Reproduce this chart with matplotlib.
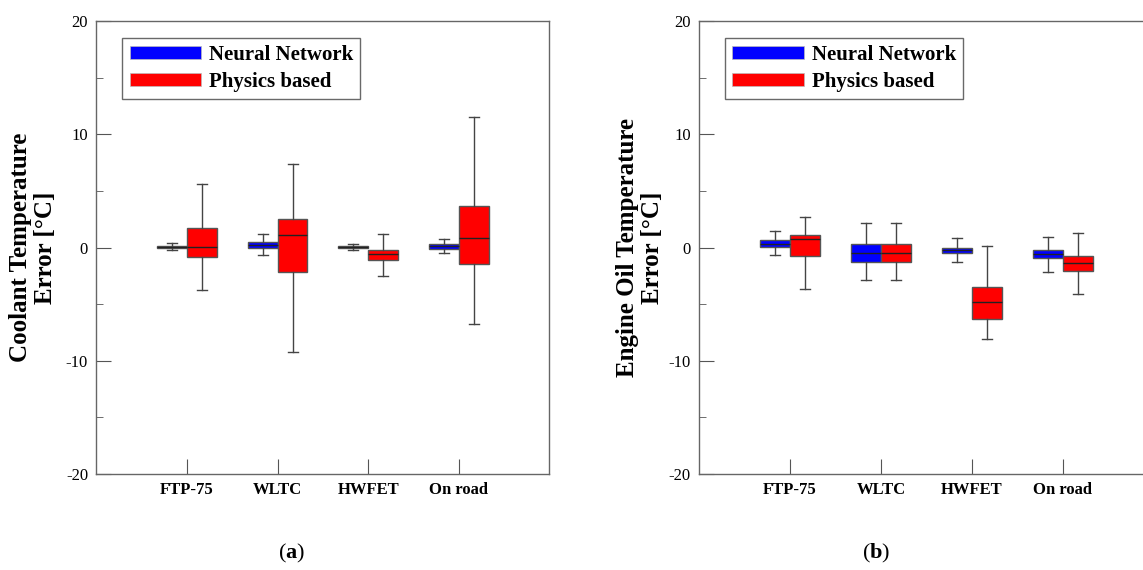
import matplotlib
matplotlib.use("Agg")
import matplotlib.pyplot as plt
from matplotlib.patches import Patch
from matplotlib.ticker import MultipleLocator

plt.rcParams["font.family"] = ["Liberation Serif", "DejaVu Serif"]
plt.rcParams["mathtext.fontset"] = "custom"
plt.rcParams["mathtext.rm"] = "Liberation Serif"
plt.rcParams["mathtext.bf"] = "Liberation Serif:bold"
plt.rcParams["axes.unicode_minus"] = False

categories = ["FTP-75", "WLTC", "HWFET", "On road"]
series_names = ["Neural Network", "Physics based"]

# coolant temperature error [°C]
coolant_nn_med = [0.05, 0.26, 0.05, 0.12]
coolant_nn_q1 = [0.0, 0.0, 0.0, -0.09]
coolant_nn_q3 = [0.1, 0.5, 0.1, 0.29]
coolant_nn_lo = [-0.2, -0.68, -0.2, -0.5]
coolant_nn_hi = [0.42, 1.2, 0.35, 0.76]

coolant_ph_med = [0.06, 1.12, -0.56, 0.82]
coolant_ph_q1 = [-0.82, -2.18, -1.12, -1.5]
coolant_ph_q3 = [1.74, 2.56, -0.18, 3.68]
coolant_ph_lo = [-3.76, -9.26, -2.5, -6.74]
coolant_ph_hi = [5.59, 7.38, 1.18, 11.53]

# engine oil temperature error [°C]
oil_nn_med = [0.35, -0.47, -0.2, -0.56]
oil_nn_q1 = [0.06, -1.32, -0.47, -0.94]
oil_nn_q3 = [0.65, 0.32, 0.0, -0.18]
oil_nn_lo = [-0.7, -2.91, -1.32, -2.15]
oil_nn_hi = [1.5, 2.18, 0.82, 0.97]

oil_ph_med = [0.79, -0.47, -4.82, -1.41]
oil_ph_q1 = [-0.76, -1.32, -6.32, -2.09]
oil_ph_q3 = [1.12, 0.32, -3.53, -0.76]
oil_ph_lo = [-3.7, -2.91, -8.12, -4.09]
oil_ph_hi = [2.7, 2.18, 0.15, 1.24]

colors = ["#0000ff", "#ff0000"]
W, H = 1143, 570


def make_stats(med, q1, q3, lo, hi):
    return [dict(med=m, q1=a, q3=b, whislo=l, whishi=h, fliers=[])
            for m, a, b, l, h in zip(med, q1, q3, lo, hi)]


def draw_panel(ax, nn, ph, ylabel, xmax, label_x):
    width = 0.33
    pos = list(range(1, len(categories) + 1))
    for k, (stats, color) in enumerate(zip([nn, ph], colors)):
        offset = (k - 0.5) * width
        ax.bxp(stats, positions=[p + offset for p in pos], widths=width,
               capwidths=0.11, patch_artist=True, showfliers=False,
               boxprops=dict(facecolor=color, edgecolor="#555555", linewidth=1.0),
               medianprops=dict(color="#222222", linewidth=1.0),
               whiskerprops=dict(color="#444444", linewidth=1.0),
               capprops=dict(color="#444444", linewidth=1.0),
               manage_ticks=False)

    ax.set_xlim(0, xmax)
    ax.set_ylim(-20, 20)
    ax.set_xticks(pos)
    ax.set_xticklabels(categories, fontsize=12, fontweight="bold")
    ax.yaxis.set_major_locator(MultipleLocator(10))
    ax.yaxis.set_minor_locator(MultipleLocator(5))
    ax.tick_params(axis="y", which="major", direction="in", length=11,
                   labelsize=12, pad=6, color="#555555", right=False)
    ax.tick_params(axis="y", which="minor", direction="in", length=5,
                   color="#555555", right=False)
    ax.tick_params(axis="x", direction="in", length=11, pad=6,
                   color="#555555", top=False)
    for sp in ax.spines.values():
        sp.set_color("#666666")
        sp.set_linewidth(1.0)

    ax.set_ylabel(ylabel, fontsize=18, fontweight="bold", linespacing=1.1)
    ax.yaxis.set_label_coords(label_x, 0.5)

    handles = [Patch(facecolor=c, edgecolor="#bbbbbb", linewidth=0.5) for c in colors]
    leg = ax.legend(handles, series_names, loc="upper left",
                    bbox_to_anchor=(0.057, 0.9625), borderaxespad=0,
                    fancybox=False, frameon=True, edgecolor="#444444",
                    prop=dict(size=15, weight="bold"),
                    handlelength=3.45, handleheight=0.58, handletextpad=0.35,
                    borderpad=0.35, labelspacing=0.3)
    leg.get_frame().set_linewidth(1.0)


fig = plt.figure(figsize=(W / 100, H / 100), dpi=100)

ax1 = fig.add_axes([96.4 / W, 1 - 474 / H, 453 / W, 453 / H])
draw_panel(ax1, make_stats(coolant_nn_med, coolant_nn_q1, coolant_nn_q3, coolant_nn_lo, coolant_nn_hi),
           make_stats(coolant_ph_med, coolant_ph_q1, coolant_ph_q3, coolant_ph_lo, coolant_ph_hi),
           "Coolant Temperature\nError [°C]", 5, -0.087)

ax2 = fig.add_axes([699.2 / W, 1 - 474 / H, 454.5 / W, 453 / H])
draw_panel(ax2, make_stats(oil_nn_med, oil_nn_q1, oil_nn_q3, oil_nn_lo, oil_nn_hi),
           make_stats(oil_ph_med, oil_ph_q1, oil_ph_q3, oil_ph_lo, oil_ph_hi),
           "Engine Oil Temperature\nError [°C]", 5, -0.077)

fig.text(292 / W, 1 - 553 / H, r"($\mathbf{a}$)", fontsize=16, ha="center", va="center")
fig.text(876 / W, 1 - 553 / H, r"($\mathbf{b}$)", fontsize=16, ha="center", va="center")

fig.savefig("out.png", dpi=100)
